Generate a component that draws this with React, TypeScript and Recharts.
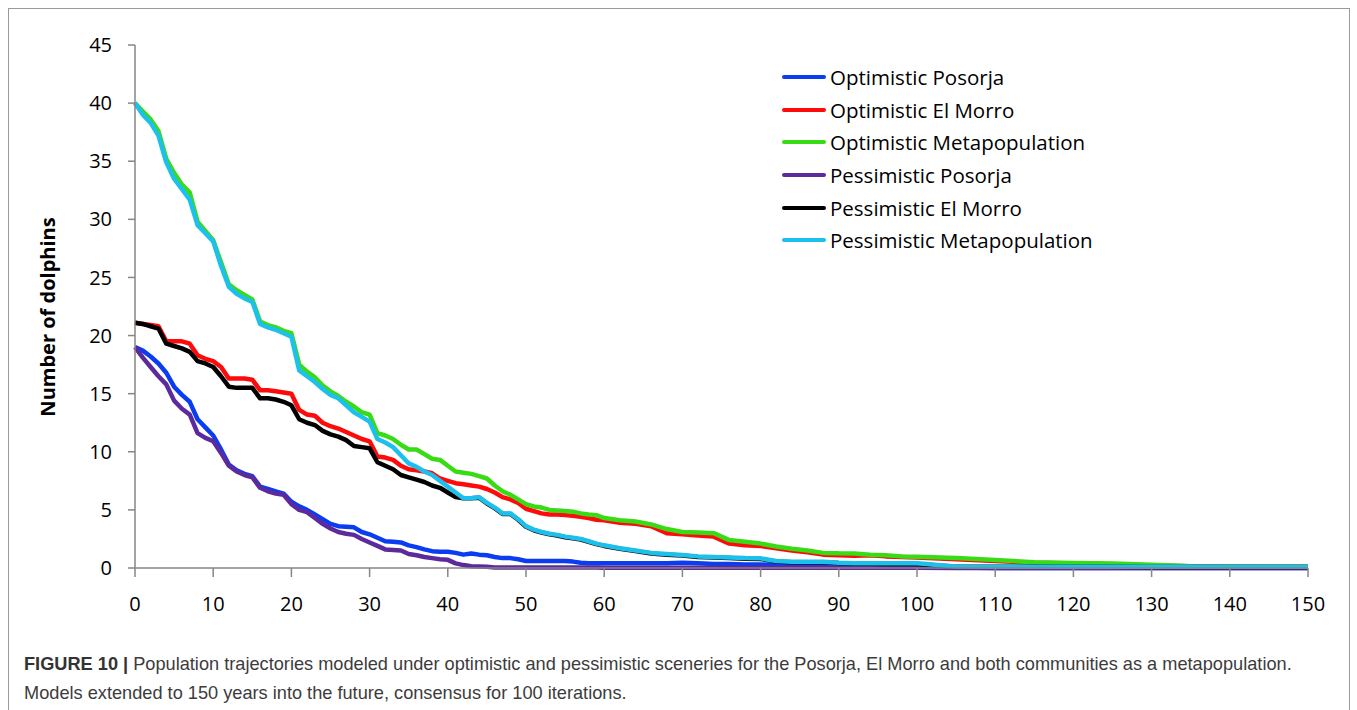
import React from 'react';
import { LineChart, Line, XAxis, YAxis } from 'recharts';

// years on the x axis (yearly to 60, then coarser where lines are flat)
const years = [
  0, 1, 2, 3, 4, 5, 6, 7, 8, 9, 10, 11, 12, 13, 14, 15, 16, 17, 18, 19,
  20, 21, 22, 23, 24, 25, 26, 27, 28, 29, 30, 31, 32, 33, 34, 35, 36, 37, 38, 39,
  40, 41, 42, 43, 44, 45, 46, 47, 48, 49, 50, 51, 52, 53, 54, 55, 56, 57, 58, 59,
  60, 62, 64, 66, 68, 70, 72, 74, 76, 78, 80, 82, 84, 86, 88, 90, 92, 94, 96, 98,
  100, 105, 110, 115, 120, 125, 130, 135, 140, 145, 150,
];

const optPosorja = [
  19.0, 18.7, 18.2, 17.6, 16.8, 15.6, 14.9, 14.3, 12.8, 12.1,
  11.4, 10.2, 8.9, 8.4, 8.1, 7.9, 7.0, 6.8, 6.6, 6.4,
  5.7, 5.3, 5.0, 4.6, 4.2, 3.8, 3.6, 3.55, 3.5, 3.1,
  2.9, 2.6, 2.3, 2.25, 2.2, 1.95, 1.8, 1.6, 1.45, 1.4,
  1.4, 1.3, 1.15, 1.25, 1.15, 1.1, 0.95, 0.85, 0.85, 0.75,
  0.6, 0.6, 0.6, 0.6, 0.6, 0.6, 0.55, 0.45, 0.4, 0.4,
  0.4, 0.4, 0.4, 0.4, 0.4, 0.45, 0.4, 0.35, 0.35, 0.3,
  0.3, 0.25, 0.25, 0.2, 0.2, 0.2, 0.15, 0.15, 0.1, 0.1,
  0.1, 0.05, 0, 0, 0, 0, 0, 0, 0, 0, 0,
];

const optElMorro = [
  21.1, 21.0, 20.9, 20.8, 19.5, 19.5, 19.5, 19.3, 18.3, 18.0,
  17.8, 17.3, 16.3, 16.3, 16.3, 16.2, 15.3, 15.3, 15.2, 15.1,
  15.0, 13.6, 13.2, 13.1, 12.5, 12.2, 12.0, 11.7, 11.4, 11.1,
  10.9, 9.6, 9.5, 9.3, 8.8, 8.5, 8.4, 8.3, 8.15, 7.7,
  7.5, 7.3, 7.2, 7.1, 7.0, 6.8, 6.5, 6.1, 5.9, 5.6,
  5.1, 4.9, 4.7, 4.6, 4.6, 4.55, 4.5, 4.4, 4.3, 4.15,
  4.1, 3.9, 3.8, 3.6, 3.0, 2.9, 2.8, 2.7, 2.1, 1.95,
  1.9, 1.7, 1.5, 1.35, 1.15, 1.1, 1.05, 1.1, 1.0, 0.95,
  0.9, 0.75, 0.6, 0.45, 0.38, 0.32, 0.22, 0.15, 0.12, 0.11, 0.1,
];

const optMeta = [
  40.0, 39.3, 38.6, 37.6, 35.2, 34.0, 33.0, 32.3, 29.8, 29.0,
  28.2, 26.3, 24.4, 23.9, 23.5, 23.1, 21.2, 20.9, 20.7, 20.4,
  20.2, 17.5, 16.9, 16.4, 15.7, 15.2, 14.8, 14.3, 13.9, 13.4,
  13.2, 11.6, 11.4, 11.1, 10.6, 10.2, 10.2, 9.8, 9.4, 9.3,
  8.8, 8.3, 8.2, 8.1, 7.9, 7.7, 7.1, 6.6, 6.3, 5.9,
  5.5, 5.3, 5.2, 5.0, 4.95, 4.9, 4.85, 4.7, 4.6, 4.55,
  4.3, 4.1, 4.0, 3.75, 3.35, 3.1, 3.05, 3.0, 2.4, 2.25,
  2.1, 1.85, 1.65, 1.5, 1.3, 1.26, 1.25, 1.15, 1.1, 1.0,
  0.97, 0.85, 0.68, 0.5, 0.42, 0.38, 0.28, 0.15, 0.12, 0.11, 0.1,
];

const pessPosorja = [
  19.0, 18.1, 17.3, 16.5, 15.8, 14.4, 13.7, 13.2, 11.6, 11.2,
  10.9, 9.9, 8.8, 8.3, 8.0, 7.8, 6.9, 6.6, 6.4, 6.3,
  5.5, 5.0, 4.8, 4.3, 3.8, 3.4, 3.1, 2.95, 2.85, 2.5,
  2.2, 1.9, 1.6, 1.55, 1.5, 1.2, 1.1, 0.95, 0.85, 0.75,
  0.7, 0.4, 0.25, 0.15, 0.12, 0.1, 0.05, 0.05, 0.05, 0.05,
  0.04, 0.04, 0.04, 0.04, 0.04, 0.04, 0.04, 0.04, 0.04, 0.04,
  0.03, 0.03, 0.03, 0.03, 0.03, 0.03, 0.03, 0.03, 0.03, 0.03,
  0.03, 0.03, 0.03, 0.03, 0.03, 0.03, 0.03, 0.03, 0.03, 0.03,
  0.03, 0, 0, 0, 0, 0, 0, 0, 0, 0, 0,
];

const pessElMorro = [
  21.1, 21.0, 20.8, 20.6, 19.3, 19.1, 18.9, 18.6, 17.8, 17.6,
  17.3, 16.5, 15.6, 15.5, 15.5, 15.5, 14.6, 14.6, 14.5, 14.3,
  14.0, 12.8, 12.5, 12.3, 11.8, 11.5, 11.3, 11.0, 10.5, 10.4,
  10.3, 9.1, 8.8, 8.5, 8.0, 7.8, 7.6, 7.4, 7.1, 6.9,
  6.5, 6.1, 6.0, 6.0, 6.05, 5.55, 5.15, 4.65, 4.65, 4.15,
  3.55, 3.25, 3.05, 2.9, 2.8, 2.65, 2.55, 2.45, 2.25, 2.05,
  1.9, 1.65, 1.45, 1.25, 1.15, 1.07, 0.95, 0.9, 0.85, 0.8,
  0.78, 0.55, 0.5, 0.5, 0.5, 0.42, 0.37, 0.37, 0.35, 0.35,
  0.35, 0.1, 0.1, 0.1, 0.1, 0.1, 0.09, 0.09, 0.08, 0.08, 0.08,
];

const pessMeta = [
  40.0, 39.0, 38.3, 37.2, 34.9, 33.5, 32.6, 31.7, 29.5, 28.8,
  28.1, 26.0, 24.2, 23.6, 23.2, 22.9, 21.0, 20.7, 20.5, 20.2,
  19.9, 17.0, 16.5, 16.0, 15.4, 14.9, 14.6, 14.0, 13.4, 13.0,
  12.6, 11.1, 10.8, 10.4, 9.7, 9.0, 8.7, 8.3, 8.0, 7.5,
  7.0, 6.5, 6.0, 6.0, 6.1, 5.6, 5.2, 4.7, 4.7, 4.2,
  3.6, 3.3, 3.1, 2.95, 2.85, 2.7, 2.6, 2.5, 2.3, 2.1,
  1.95, 1.7, 1.5, 1.3, 1.2, 1.12, 1.0, 0.95, 0.9, 0.85,
  0.83, 0.6, 0.54, 0.54, 0.54, 0.45, 0.4, 0.4, 0.4, 0.4,
  0.4, 0.12, 0.1, 0.1, 0.1, 0.1, 0.1, 0.1, 0.1, 0.1, 0.1,
];

const xTicks = [0, 10, 20, 30, 40, 50, 60, 70, 80, 90, 100, 110, 120, 130, 140, 150];
const yTicks = [0, 5, 10, 15, 20, 25, 30, 35, 40, 45];

const SERIES = [
  { key: 'optPosorja', name: 'Optimistic Posorja', color: '#0a3cf2', values: optPosorja },
  { key: 'optElMorro', name: 'Optimistic El Morro', color: '#ff0a0a', values: optElMorro },
  { key: 'optMeta', name: 'Optimistic Metapopulation', color: '#38dc14', values: optMeta },
  { key: 'pessPosorja', name: 'Pessimistic Posorja', color: '#5c2a9c', values: pessPosorja },
  { key: 'pessElMorro', name: 'Pessimistic El Morro', color: '#000000', values: pessElMorro },
  { key: 'pessMeta', name: 'Pessimistic Metapopulation', color: '#1cc0ea', values: pessMeta },
];

const data = years.map((year, i) => {
  const row: Record<string, number> = { year };
  SERIES.forEach((s) => {
    row[s.key] = s.values[i];
  });
  return row;
});

const FONT = "'Open Sans', 'Noto Sans', sans-serif";
const AXIS = '#868686';

const ChartLegend = () => (
  <div style={{ fontFamily: FONT, fontSize: 20.5, color: '#000' }}>
    {SERIES.map((s) => (
      <div key={s.key} style={{ display: 'flex', alignItems: 'center', height: 32.6 }}>
        <div
          style={{ width: 44, height: 4, borderRadius: 2, background: s.color, marginRight: 4 }}
        />
        <span style={{ lineHeight: '20px' }}>{s.name}</span>
      </div>
    ))}
  </div>
);

export default function App() {
  return (
    <div style={{ position: 'absolute', left: 0, top: 0, width: 1357, height: 710, background: '#fff', overflow: 'hidden' }}>
      {/* figure frame */}
      <div
        style={{
          position: 'absolute',
          left: 8,
          top: 8,
          width: 1340,
          height: 720,
          border: '1px solid #9a9a9a',
        }}
      />

      <div style={{ position: 'absolute', left: 0, top: 0 }}>
        <LineChart
          width={1357}
          height={640}
          data={data}
          margin={{ top: 45, right: 49, bottom: 30, left: 0 }}
        >
          <XAxis
            dataKey="year"
            type="number"
            domain={[0, 150]}
            ticks={xTicks}
            interval={0}
            height={42}
            stroke={AXIS}
            strokeWidth={1.5}
            tickSize={9}
            tickMargin={20}
            tick={{ fill: '#000', fontSize: 20, fontFamily: FONT }}
          />
          <YAxis
            type="number"
            domain={[0, 45]}
            ticks={yTicks}
            interval={0}
            width={135}
            stroke={AXIS}
            strokeWidth={1.5}
            tickSize={7}
            tickMargin={16}
            tick={{ fill: '#000', fontSize: 20, fontFamily: FONT }}
          />
          {SERIES.map((s) => (
            <Line
              key={s.key}
              type="linear"
              dataKey={s.key}
              name={s.name}
              stroke={s.color}
              strokeWidth={4.5}
              strokeLinejoin="round"
              dot={false}
              isAnimationActive={false}
            />
          ))}
        </LineChart>
      </div>

      {/* legend */}
      <div style={{ position: 'absolute', left: 782, top: 61, width: 420 }}>
        <ChartLegend />
      </div>

      {/* y axis title */}
      <div
        style={{
          position: 'absolute',
          left: 47,
          top: 317,
          transform: 'translate(-50%, -50%) rotate(-90deg)',
          whiteSpace: 'nowrap',
          fontFamily: FONT,
          fontWeight: 700,
          fontSize: 20,
          color: '#000',
        }}
      >
        Number of dolphins
      </div>

      {/* caption */}
      <div
        style={{
          position: 'absolute',
          left: 24,
          top: 650,
          width: 1320,
          fontFamily: "'Liberation Sans', Arial, sans-serif",
          fontSize: 18.2,
          lineHeight: '29px',
          color: '#3c3c3c',
        }}
      >
        <span style={{ fontWeight: 700, color: '#333' }}>FIGURE 10 | </span>
        Population trajectories modeled under optimistic and pessimistic sceneries for the Posorja, El Morro and both communities as a metapopulation.
        <br />
        Models extended to 150 years into the future, consensus for 100 iterations.
      </div>
    </div>
  );
}
